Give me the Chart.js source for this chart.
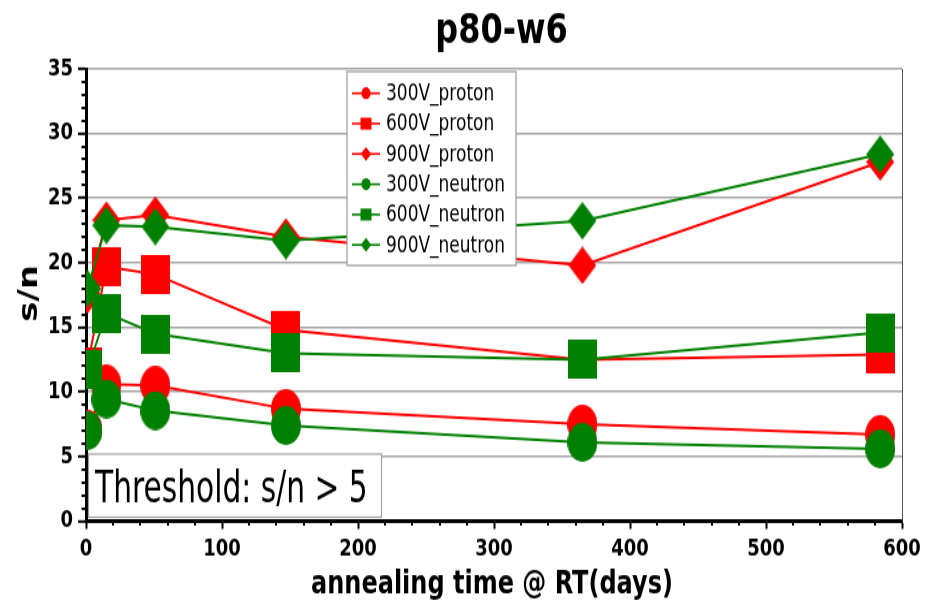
<!DOCTYPE html>
<html lang="en">
<head>
<meta charset="UTF-8">
<title>p80-w6</title>
<script src="https://cdn.jsdelivr.net/npm/chart.js@4"></script>
<style>
  body { margin: 0; background: #fff; overflow: hidden; }
  /* bitmap is 931x465, shown stretched to 931x605 */
  #snChart { display: block; width: 931px; height: 605px; }
</style>
</head>
<body>
<canvas id="snChart" width="931" height="465" style="width:931px;height:605px"></canvas>
<script>
// annealing time at room temperature (days)
const days = [1, 15, 51, 147, 365, 584];

// signal / noise per bias voltage and irradiation type
const proton300  = [7.1, 10.6, 10.5, 8.7, 7.5, 6.7];
const proton600  = [11.9, 19.7, 19.1, 14.8, 12.5, 12.9];
const proton900  = [17.5, 23.3, 23.7, 22.0, 19.8, 27.8];
const neutron300 = [7.0, 9.45, 8.55, 7.4, 6.1, 5.6];
const neutron600 = [11.7, 16.1, 14.5, 13.0, 12.5, 14.6];
const neutron900 = [18.0, 22.9, 22.8, 21.7, 23.25, 28.4];

const xTicks = [0, 100, 200, 300, 400, 500, 600];
const yTicks = [0, 5, 10, 15, 20, 25, 30, 35];

const titleText = 'p80-w6';
const xTitle = 'annealing time @ RT(days)';
const yTitle = 's/n';
const noteText = 'Threshold: s/n > 5';

const RED = '#ff0000';
const GREEN = '#008000';

// filled markers without outline
function makeMarker(shape, color, w, h) {
  const c = document.createElement('canvas');
  c.width = w; c.height = h;
  const g = c.getContext('2d');
  g.fillStyle = color;
  g.beginPath();
  if (shape === 'circle') {
    g.ellipse(w / 2, h / 2, w / 2, h / 2, 0, 0, Math.PI * 2);
  } else if (shape === 'square') {
    g.rect(0, 0, w, h);
  } else {
    g.moveTo(w / 2, 0); g.lineTo(w, h / 2); g.lineTo(w / 2, h); g.lineTo(0, h / 2);
    g.closePath();
  }
  g.fill();
  return c;
}

const sizes = { circle: [30, 30], square: [29, 30], diamond: [28, 29] };

function series(label, values, color, shape, order) {
  return {
    label: label,
    data: days.map((d, i) => ({ x: d, y: values[i] })),
    borderColor: color,
    backgroundColor: color,
    borderWidth: 2,
    pointStyle: makeMarker(shape, color, sizes[shape][0], sizes[shape][1]),
    pointRadius: 15,
    shape: shape,
    order: order
  };
}

const datasets = [
  series('300V_proton', proton300, RED, 'circle', 1),
  series('600V_proton', proton600, RED, 'square', 1),
  series('900V_proton', proton900, RED, 'diamond', 1),
  series('300V_neutron', neutron300, GREEN, 'circle', 0),
  series('600V_neutron', neutron600, GREEN, 'square', 0),
  series('900V_neutron', neutron900, GREEN, 'diamond', 0)
];

function smallMarker(ctx, shape, x, y) {
  ctx.beginPath();
  if (shape === 'circle') ctx.arc(x, y, 4.6, 0, Math.PI * 2);
  else if (shape === 'square') ctx.rect(x - 5.5, y - 4.6, 11, 9.2);
  else { ctx.moveTo(x, y - 5.4); ctx.lineTo(x + 5.2, y); ctx.lineTo(x, y + 5.4); ctx.lineTo(x - 5.2, y); ctx.closePath(); }
  ctx.fill();
}

const extras = {
  id: 'extras',
  afterDatasetsDraw(chart) {
    const ctx = chart.ctx;
    const a = chart.chartArea;
    ctx.save();

    // right frame
    ctx.strokeStyle = '#555';
    ctx.lineWidth = 1;
    ctx.beginPath(); ctx.moveTo(a.right + 0.5, a.top); ctx.lineTo(a.right + 0.5, a.bottom); ctx.stroke();

    // legend box
    ctx.fillStyle = '#fff';
    ctx.strokeStyle = '#9a9a9a';
    ctx.lineWidth = 1.2;
    ctx.fillRect(347, 55, 169, 149);
    ctx.strokeRect(347, 55, 169, 149);
    ctx.font = '17px "DejaVu Sans"';
    ctx.textBaseline = 'middle';
    ctx.textAlign = 'left';
    chart.data.datasets.forEach((ds, i) => {
      const y = 71.7 + i * 23.3;
      ctx.strokeStyle = ds.borderColor;
      ctx.fillStyle = ds.borderColor;
      ctx.lineWidth = 1.6;
      ctx.beginPath(); ctx.moveTo(352, y); ctx.lineTo(380, y); ctx.stroke();
      smallMarker(ctx, ds.shape, 366, y);
      ctx.fillStyle = '#000';
      ctx.fillText(ds.label, 386, y + 1);
    });

    // threshold note
    ctx.fillStyle = '#fff';
    ctx.strokeStyle = '#a0a0a0';
    ctx.lineWidth = 1.2;
    ctx.fillRect(88.5, 349, 293, 48.5);
    ctx.strokeRect(88.5, 349, 293, 48.5);
    ctx.fillStyle = '#000';
    ctx.font = '33px "DejaVu Sans Condensed", "DejaVu Sans"';
    ctx.textBaseline = 'alphabetic';
    ctx.fillText(noteText, 95, 385.6);
    ctx.restore();
  },
  afterDraw(chart) {
    const ctx = chart.ctx;
    const { x, y } = chart.scales;
    const a = chart.chartArea;
    ctx.save();

    // minor tick marks
    ctx.strokeStyle = '#000';
    ctx.lineWidth = 2;
    ctx.beginPath();
    for (let v = y.min; v <= y.max; v += 1) {
      if (v % 5 === 0) continue;
      const py = Math.round(y.getPixelForValue(v));
      ctx.moveTo(a.left - 4.5, py); ctx.lineTo(a.left, py);
    }
    for (let v = x.min; v <= x.max; v += 20) {
      if (v % 100 === 0) continue;
      const px = Math.round(x.getPixelForValue(v));
      ctx.moveTo(px, a.bottom); ctx.lineTo(px, a.bottom + 3.5);
    }
    ctx.stroke();

    // titles
    ctx.fillStyle = '#000';
    ctx.textAlign = 'center';
    ctx.textBaseline = 'alphabetic';
    ctx.font = 'bold 32px "DejaVu Sans"';
    ctx.fillText(titleText, 501.5, 33.3);
    ctx.font = 'bold 24px "DejaVu Sans"';
    ctx.fillText(xTitle, 492, 455.5);
    ctx.translate(30, 225.6);
    ctx.rotate(-Math.PI / 2);
    ctx.font = 'bold 26px "DejaVu Sans"';
    ctx.textBaseline = 'middle';
    ctx.fillText(yTitle, 0, 0);
    ctx.restore();
  }
};

const tickFont = { family: 'DejaVu Sans', size: 18, weight: 'bold' };

new Chart(document.getElementById('snChart'), {
  type: 'line',
  data: { datasets: datasets },
  options: {
    responsive: false,
    devicePixelRatio: 1,
    animation: false,
    events: [],
    layout: { padding: { top: 53, right: 29, left: 0, bottom: 0 } },
    plugins: { legend: { display: false }, tooltip: { enabled: false } },
    elements: { line: { tension: 0 } },
    scales: {
      x: {
        type: 'linear',
        min: 0,
        max: 600,
        afterBuildTicks: s => { s.ticks = xTicks.map(v => ({ value: v })); },
        afterFit: s => { s.height = 64.5; },
        ticks: { color: '#000', font: tickFont, padding: 5, autoSkip: false, maxRotation: 0 },
        grid: { drawOnChartArea: false, tickColor: '#000', tickWidth: 2, tickLength: 6 },
        border: { color: '#000', width: 3 }
      },
      y: {
        min: 0,
        max: 35,
        afterBuildTicks: s => { s.ticks = yTicks.map(v => ({ value: v })); },
        afterFit: s => { s.width = 86; },
        ticks: { color: '#000', font: tickFont, padding: 5 },
        grid: {
          color: c => (c.tick && c.tick.value === 0) ? 'rgba(0,0,0,0)' : '#a6a6a6',
          lineWidth: 1.6,
          tickColor: '#000',
          tickWidth: 2,
          tickLength: 8
        },
        border: { color: '#000', width: 3 }
      }
    }
  },
  plugins: [extras]
});
</script>
</body>
</html>
